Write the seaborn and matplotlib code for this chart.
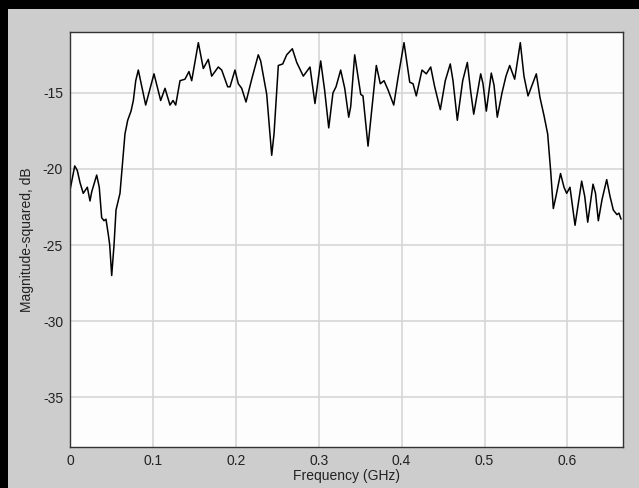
import matplotlib
matplotlib.use("Agg")
import matplotlib.pyplot as plt
import seaborn as sns
import pandas as pd

freq_ghz = [0.0, 0.0057, 0.0088, 0.0121, 0.0160, 0.0209, 0.0241, 0.0262, 0.0322, 0.0353,
            0.0382, 0.0410, 0.0434, 0.0462, 0.0479, 0.0503, 0.0531, 0.0555, 0.0603, 0.0636,
            0.0663, 0.0696, 0.0736, 0.0764, 0.0793, 0.0824, 0.0913, 0.1013, 0.1094, 0.1146,
            0.1206, 0.1243, 0.1275, 0.1327, 0.1387, 0.1435, 0.1468, 0.1548, 0.1608, 0.1668,
            0.1709, 0.1789, 0.1830, 0.1902, 0.1930, 0.1990, 0.2030, 0.2071, 0.2123, 0.2192,
            0.2271, 0.2300, 0.2373, 0.2433, 0.2461, 0.2513, 0.2566, 0.2614, 0.2682, 0.2735,
            0.2814, 0.2895, 0.2955, 0.3024, 0.3072, 0.3121, 0.3172, 0.3209, 0.3265, 0.3314,
            0.3362, 0.3386, 0.3434, 0.3507, 0.3534, 0.3595, 0.3695, 0.3743, 0.3788, 0.3836,
            0.3905, 0.3957, 0.4029, 0.4098, 0.4138, 0.4177, 0.4246, 0.4298, 0.4351, 0.4399,
            0.4467, 0.4527, 0.4587, 0.4620, 0.4672, 0.4737, 0.4793, 0.4833, 0.4870, 0.4954,
            0.4982, 0.5022, 0.5082, 0.5115, 0.5154, 0.5211, 0.5259, 0.5304, 0.5364, 0.5432,
            0.5476, 0.5525, 0.5625, 0.5669, 0.5718, 0.5762, 0.5799, 0.5830, 0.5862, 0.5917,
            0.5959, 0.5991, 0.6031, 0.6092, 0.6172, 0.6209, 0.6245, 0.6309, 0.6339, 0.6373,
            0.6418, 0.6474, 0.6514, 0.6554, 0.6598, 0.6622, 0.6647]

mag_db = [-21.4, -19.8, -20.1, -20.9, -21.6, -21.2, -22.1, -21.5, -20.4, -21.2,
          -23.2, -23.4, -23.3, -24.3, -25.0, -27.0, -25.0, -22.7, -21.6, -19.45,
          -17.7, -16.8, -16.2, -15.5, -14.2, -13.5, -15.8, -13.75, -15.5, -14.7,
          -15.8, -15.5, -15.8, -14.2, -14.1, -13.6, -14.2, -11.7, -13.4, -12.8,
          -13.9, -13.3, -13.5, -14.6, -14.6, -13.5, -14.4, -14.7, -15.6, -14.1,
          -12.5, -12.9, -15.1, -19.1, -17.7, -13.2, -13.1, -12.5, -12.1, -13.0,
          -13.9, -13.3, -15.7, -12.9, -14.85, -17.3, -15.0, -14.6, -13.5, -14.7,
          -16.6, -15.9, -12.5, -15.1, -15.2, -18.5, -13.2, -14.4, -14.2, -14.8,
          -15.8, -14.0, -11.7, -14.3, -14.4, -15.2, -13.5, -13.75, -13.3, -14.6,
          -16.1, -14.2, -13.1, -14.2, -16.8, -14.2, -13.0, -14.9, -16.4, -13.75,
          -14.4, -16.2, -13.7, -14.5, -16.6, -15.0, -13.9, -13.2, -14.1, -11.7,
          -13.9, -15.2, -13.75, -15.3, -16.5, -17.7, -20.2, -22.6, -21.8, -20.3,
          -21.2, -21.6, -21.2, -23.7, -20.8, -21.8, -23.5, -21.0, -21.6, -23.4,
          -22.0, -20.7, -21.8, -22.7, -23.0, -22.9, -23.3]

x_ticks = [0, 0.1, 0.2, 0.3, 0.4, 0.5, 0.6]
x_tick_labels = ["0", "0.1", "0.2", "0.3", "0.4", "0.5", "0.6"]
y_ticks = [-35, -30, -25, -20, -15]
y_tick_labels = ["-35", "-30", "-25", "-20", "-15"]

df = pd.DataFrame({"Frequency (GHz)": freq_ghz, "Magnitude-squared, dB": mag_db})

sns.set_style("whitegrid")
plt.rcParams["font.family"] = ["Liberation Sans", "DejaVu Sans"]

fig = plt.figure(figsize=(6.39, 4.88), dpi=100, facecolor="black")

# light grey panel inset from the dark top/left frame
bg = fig.add_axes([8 / 639, 0, 1 - 8 / 639, 1 - 9 / 488], zorder=-5)
bg.set_facecolor("#cdcdcd")
bg.set_xticks([])
bg.set_yticks([])
bg.grid(False)
for s in bg.spines.values():
    s.set_visible(False)

ax = fig.add_axes([70 / 639, 1 - 446.7 / 488, (622.7 - 70) / 639, (446.7 - 32) / 488])
ax.set_facecolor("#fdfdfd")

sns.lineplot(data=df, x="Frequency (GHz)", y="Magnitude-squared, dB", ax=ax,
             color="black", linewidth=1.1, estimator=None, sort=False)

ax.set_xlim(0, 0.6667)
ax.set_ylim(-38.25, -11.0)
ax.set_xticks(x_ticks)
ax.set_xticklabels(x_tick_labels)
ax.set_yticks(y_ticks)
ax.set_yticklabels(y_tick_labels)
ax.grid(True, color="#d6d6d6", linewidth=1.2)
ax.tick_params(axis="both", length=0, labelsize=10, colors="#222222", pad=5)
for s in ax.spines.values():
    s.set_visible(True)
    s.set_color("#333333")
    s.set_linewidth(1.0)
ax.set_xlabel("Frequency (GHz)", fontsize=10, color="#222222", labelpad=1)
ax.set_ylabel("Magnitude-squared, dB", fontsize=10, color="#222222", labelpad=6)

fig.savefig("out.png", dpi=100, facecolor="black")
